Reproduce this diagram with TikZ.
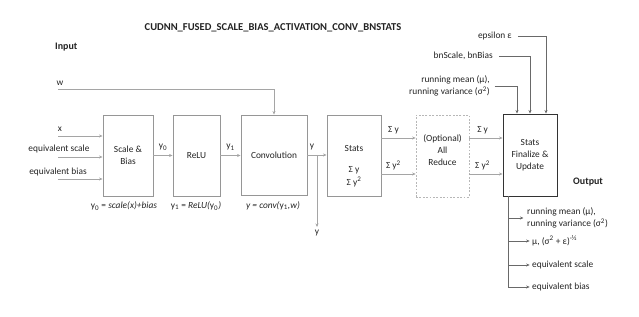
\documentclass[tikz,border=0pt]{standalone}
\usepackage{fontspec}
\setmainfont{Carlito}
\usetikzlibrary{arrows.meta,positioning,calc}
\definecolor{ink}{RGB}{35,35,35}
\definecolor{wiregray}{RGB}{165,165,165}
\definecolor{darkgray}{RGB}{105,105,105}
\definecolor{framegray}{RGB}{150,150,150}

\begin{document}
\begin{tikzpicture}[x=0.03cm,y=-0.03cm,
    every node/.style={text=ink,inner sep=0pt,font=\fontsize{8}{10.2}\selectfont},
    blk/.style={draw=framegray,line width=0.8pt,minimum height=2.43cm,align=center},
    wire/.style={draw=wiregray,line width=0.7pt,-{Stealth[length=3pt,width=2.6pt]}},
    darkwire/.style={draw=darkgray,line width=0.7pt,-{Stealth[length=3pt,width=2.6pt]}},
    heading/.style={font=\bfseries\fontsize{8.5}{10}\selectfont}]
    \useasboundingbox (0,0) rectangle (639,317);

    % title and headings
    \node[heading,font=\bfseries\fontsize{9}{11}\selectfont] (title) at (273,28)
      {CUDNN\_FUSED\_SCALE\_BIAS\_ACTIVATION\_CONV\_BNSTATS};
    \node[heading,anchor=west] (inlbl) at (55,47) {Input};
    \node[heading,anchor=west] (outlbl) at (573,182) {Output};

    % processing blocks
    \node[blk,minimum width=1.5cm] (sb) at (128,155.5) {Scale \&\\Bias};
    \node[blk,minimum width=1.41cm] (relu) at (196.5,155.5) {ReLU};
    \node[blk,minimum width=1.98cm,minimum height=2.4cm] (conv) at (274,155) {Convolution};
    \node[blk,minimum width=1.62cm] (stats) at (354,155.5) {};
    \node[align=center,font=\fontsize{8}{11}\selectfont] (statstxt) at (354,166)
      {Stats\\[7pt]Σ y\\Σ y\textsuperscript{2}};
    \node[blk,draw=wiregray!80,line width=0.6pt,dash pattern=on 1.6pt off 1.3pt,
      minimum width=1.59cm,minimum height=2.46cm] (ar) at (442.5,156) {};
    \node[align=center] (artxt) at (442.5,150) {(Optional)\\All\\Reduce};
    \node[blk,draw=black!80,minimum width=1.62cm,minimum height=2.46cm] (fin) at (530,155)
      {Stats\\Finalize \&\\Update};

    % captions
    \node (capsb) at (124,206) {y\textsubscript{0} = \textit{scale(x)+bias}};
    \node (caprelu) at (196,206) {y\textsubscript{1} = \textit{ReLU(}y\textsubscript{0}\textit{)}};
    \node (capconv) at (273,206) {\textit{y = conv(}y\textsubscript{1}\textit{,w)}};

    % inputs on the left
    \coordinate (wsrc) at (58,89);
    \coordinate (xsrc) at (58,136);
    \coordinate (scsrc) at (58,157);
    \coordinate (bisrc) at (58,179);
    \node (wlbl) at (60,83) {w};
    \node (xlbl) at (60,129) {x};
    \node (sclbl) at (59,149) {equivalent scale};
    \node (bilbl) at (58,172) {equivalent bias};
    \draw[wire] (wsrc) -| (conv.north);
    \draw[wire] (xsrc) -- (xsrc -| sb.west);
    \draw[wire] (scsrc) -- (scsrc -| sb.west);
    \draw[wire] (bisrc) -- (bisrc -| sb.west);

    % main chain
    \draw[wire] (sb.east) -- (relu.west) node[midway,above=4pt] {y\textsubscript{0}};
    \draw[wire] (relu.east) -- (relu.east -| conv.west) node[midway,above=4pt] {y\textsubscript{1}};
    \draw[wire] (conv.east) -- (conv.east -| stats.west);
    \node (ylbl) at (312,147) {y};
    \coordinate (ybr) at (317,155);
    \coordinate (yout) at (317,227);
    \draw[wire] (ybr) -- (yout);
    \node[below=2pt of yout] (youtlbl) {y};

    % statistics
    \draw[wire] ($(stats.east)+(0,-17.5)$) coordinate (s1) -- (s1 -| ar.west)
      node[pos=0.35,above=3pt] {Σ y};
    \draw[wire] ($(stats.east)+(0,18.5)$) coordinate (s2) -- (s2 -| ar.west)
      node[pos=0.35,above=3pt] {Σ y\textsuperscript{2}};
    \draw[wire] ($(ar.east)+(0,-18)$) coordinate (r1) -- (r1 -| fin.west)
      node[pos=0.4,above=3pt] {Σ y};
    \draw[wire] ($(ar.east)+(0,18)$) coordinate (r2) -- (r2 -| fin.west)
      node[pos=0.4,above=3pt] {Σ y\textsuperscript{2}};

    % inputs from above
    \node[anchor=east] (epslbl) at (512,36) {epsilon ε};
    \node[anchor=east] (bnlbl) at (493,56) {bnScale, bnBias};
    \node[anchor=east,align=right] (rmlbl) at (490,86)
      {running mean (μ),\\running variance (σ\textsuperscript{2})};
    \draw[darkwire] ([xshift=5pt]epslbl.east) -| ($(fin.north)+(16,0)$);
    \draw[darkwire] ([xshift=5pt]bnlbl.east) -| (fin.north);
    \draw[darkwire] ([xshift=4pt]rmlbl.east) -| ($(fin.north)+(-13,0)$);

    % outputs
    \coordinate (otop) at ($(fin.south west)+(6,0)$);
    \node[anchor=west,align=left] (o1) at (527,218)
      {running mean (μ),\\running variance (σ\textsuperscript{2})};
    \node[anchor=west] (o2) at (532,241) {μ, (σ\textsuperscript{2} + ε)\textsuperscript{-½}};
    \node[anchor=west] (o3) at (532,265) {equivalent scale};
    \node[anchor=west] (o4) at (532,287) {equivalent bias};
    \draw[darkwire] (otop) |- ([xshift=-3pt]o1.west);
    \draw[darkwire] (otop) |- ([xshift=-2pt]o2.west);
    \draw[darkwire] (otop) |- ([xshift=-2pt]o3.west);
    \draw[darkwire] (otop) |- ([xshift=-2pt]o4.west);
  \end{tikzpicture}
\end{document}
